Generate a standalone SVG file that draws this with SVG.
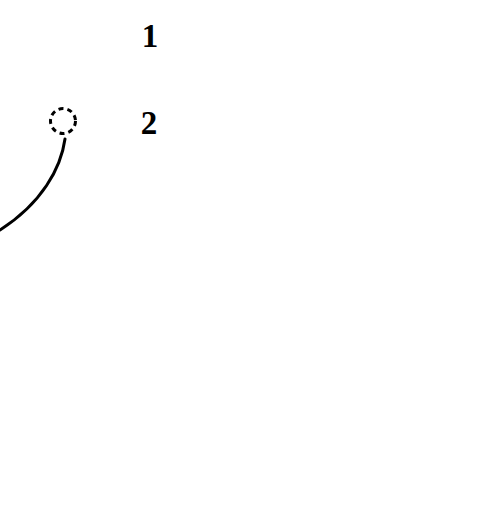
<svg xmlns="http://www.w3.org/2000/svg" width="504" height="512" viewBox="0 0 504 512">
<style>
.lbl{font-family:"Liberation Serif",serif;font-weight:bold;font-size:33px;fill:#000;text-anchor:middle}
.edge{fill:none;stroke:#000;stroke-width:3;stroke-linecap:round}
</style>
<rect width="504" height="512" fill="#fff"/>
<g id="node1"><text class="lbl" x="150" y="47">1</text></g>
<g id="node2">
<circle cx="63" cy="121" r="12.5" fill="none" stroke="#000" stroke-width="3" stroke-dasharray="5,4"/>
<text class="lbl" x="149" y="134">2</text>
</g>
<g id="connectors"><path class="edge" d="M65,139 C61,168 42,203 0,230"/></g>
</svg>
